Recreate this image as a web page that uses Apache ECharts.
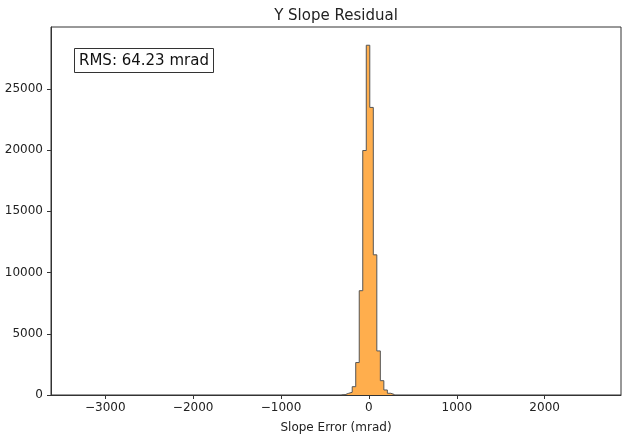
<!DOCTYPE html>
<html>
<head>
<meta charset="utf-8">
<title>Y Slope Residual</title>
<script src="https://cdn.jsdelivr.net/npm/echarts@6/dist/echarts.min.js"></script>
<style>
    html, body { margin: 0; padding: 0; background: #fff; }
    #demo { width: 625px; height: 439px; }
</style>
</head>
<body>
<div id="demo"></div>
<script>
    // histogram bins (mrad) and counts
    const binEdges = [-310, -270, -230, -190, -150, -110, -70, -30, 10, 50, 90, 130, 170, 210, 250, 290];
    const binCounts = [30, 140, 220, 680, 2650, 8520, 19970, 28570, 23490, 11450, 3600, 1170, 410, 140, 40];
    const xTicks = [-3000, -2000, -1000, 0, 1000, 2000];
    const yTicks = [0, 5000, 10000, 15000, 20000, 25000];
    const rmsText = 'RMS: 64.23 mrad';

    // outline of the stepfilled histogram: up from 0, across each bin, back down to 0
    const stepData = [[binEdges[0], 0]];
    binCounts.forEach((c, i) => {
        stepData.push([binEdges[i], c]);
    });
    stepData.push([binEdges[binEdges.length - 1], 0]);

    const font = 'DejaVu Sans';
    const myChart = echarts.init(document.getElementById('demo'));
    var option;

    option = {
        animation: false,
        backgroundColor: '#fff',
        title: [
            {
                text: 'Y Slope Residual',
                left: 336,
                textAlign: 'center',
                top: 9,
                padding: 0,
                textStyle: { fontFamily: font, fontSize: 15, fontWeight: 'normal', color: '#222' },
            },
            {
                text: rmsText,
                left: 74,
                top: 48,
                padding: [5, 5, 4, 5],
                borderWidth: 1,
                borderColor: '#333',
                backgroundColor: '#fff',
                textStyle: { fontFamily: font, fontSize: 15, fontWeight: 'normal', color: '#111', lineHeight: 16 },
            },
        ],
        grid: {
            left: 51,
            right: 4,
            top: 27,
            bottom: 41,
            show: true,
            borderColor: '#333',
            borderWidth: 1,
        },
        xAxis: {
            type: 'value',
            min: -3618,
            max: 2869,
            name: 'Slope Error (mrad)',
            nameLocation: 'middle',
            nameGap: 27,
            nameTextStyle: { fontFamily: font, fontSize: 12, color: '#222' },
            axisLine: { show: true, onZero: false, lineStyle: { color: '#333', width: 1 } },
            axisTick: { show: true, length: 4, inside: false, customValues: xTicks, lineStyle: { color: '#333' } },
            axisLabel: {
                customValues: xTicks,
                margin: 7,
                fontFamily: font,
                fontSize: 12,
                color: '#222',
                formatter: (v) => (v < 0 ? '\u2212' + Math.abs(v) : String(v)),
            },
            splitLine: { show: false },
        },
        yAxis: {
            type: 'value',
            min: 0,
            max: 30060,
            axisLine: { show: true, onZero: false, lineStyle: { color: '#333', width: 1 } },
            axisTick: { show: true, length: 4, inside: false, customValues: yTicks, lineStyle: { color: '#333' } },
            axisLabel: {
                customValues: yTicks,
                margin: 8,
                fontFamily: font,
                fontSize: 12,
                color: '#222',
                formatter: (v) => String(v),
            },
            splitLine: { show: false },
        },
        series: [
            {
                type: 'line',
                step: 'end',
                data: stepData,
                showSymbol: false,
                symbol: 'none',
                lineStyle: { color: '#555', width: 1 },
                areaStyle: { color: '#ffae4d', opacity: 1 },
            },
        ],
    };

    option && myChart.setOption(option);
</script>
</body>
</html>
